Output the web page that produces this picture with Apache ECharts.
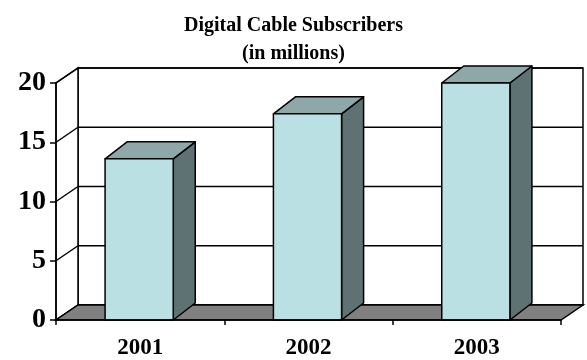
<!DOCTYPE html>
<html>
<head>
<meta charset="utf-8">
<script src="https://cdn.jsdelivr.net/npm/echarts@6/dist/echarts.min.js"></script>
<style>
  html, body { margin: 0; padding: 0; background: #fff; }
  #chart { width: 587px; height: 360px; }
</style>
</head>
<body>
<div id="chart"></div>
<script>
// Digital cable subscribers, millions
const years = ['2001', '2002', '2003'];
const subscribers = [13.6, 17.4, 20.0];
const yTicks = [0, 5, 10, 15, 20];

// Oblique depth of the walls / floor and of the columns
const WALL_DX = 22, WALL_DY = -15;
const BAR_DX = 22, BAR_DY = -17;
const SERIF = '"Liberation Serif", "Times New Roman", serif';
const INK = '#000';

const chart = echarts.init(document.getElementById('chart'), null, { renderer: 'canvas' });

function wallsRender(params, api) {
  const cs = params.coordSys;
  const x0 = cs.x, x1 = cs.x + cs.width;
  const yTop = api.coord([0, yTicks[yTicks.length - 1]])[1];
  const yBot = api.coord([0, yTicks[0]])[1];
  const children = [];
  // back wall
  children.push({
    type: 'polygon',
    shape: { points: [[x0 + WALL_DX, yTop + WALL_DY], [x1 + WALL_DX, yTop + WALL_DY],
                      [x1 + WALL_DX, yBot + WALL_DY], [x0 + WALL_DX, yBot + WALL_DY]] },
    style: { fill: '#fff', stroke: INK, lineWidth: 1.5 }
  });
  // side wall
  children.push({
    type: 'polygon',
    shape: { points: [[x0, yBot], [x0, yTop], [x0 + WALL_DX, yTop + WALL_DY], [x0 + WALL_DX, yBot + WALL_DY]] },
    style: { fill: '#fff', stroke: INK, lineWidth: 1.5 }
  });
  // gridlines on the back and side walls
  yTicks.forEach(function (v) {
    const y = api.coord([0, v])[1];
    children.push({
      type: 'line',
      shape: { x1: x0 + WALL_DX, y1: y + WALL_DY, x2: x1 + WALL_DX, y2: y + WALL_DY },
      style: { stroke: INK, lineWidth: 1.5 }
    });
    children.push({
      type: 'line',
      shape: { x1: x0, y1: y, x2: x0 + WALL_DX, y2: y + WALL_DY },
      style: { stroke: INK, lineWidth: 1.5 }
    });
  });
  // floor
  children.push({
    type: 'polygon',
    shape: { points: [[x0, yBot], [x1, yBot], [x1 + WALL_DX, yBot + WALL_DY], [x0 + WALL_DX, yBot + WALL_DY]] },
    style: { fill: '#808080', stroke: INK, lineWidth: 1.5 }
  });
  return { type: 'group', children: children };
}

function barRender(params, api) {
  const idx = api.value(0);
  const base = api.coord([idx, 0]);
  const top = api.coord([idx, api.value(1)]);
  const band = api.size([1, 0])[0];
  const w = band * 0.405;
  const xl = base[0] - 1 - w / 2, xr = xl + w;
  const yb = base[1], yt = top[1];
  const edge = { stroke: INK, lineWidth: 1.5, lineJoin: 'round' };
  return {
    type: 'group',
    children: [
      { type: 'polygon',
        shape: { points: [[xr, yb], [xr + BAR_DX, yb + BAR_DY], [xr + BAR_DX, yt + BAR_DY], [xr, yt]] },
        style: Object.assign({ fill: '#5E7273' }, edge) },
      { type: 'polygon',
        shape: { points: [[xl, yt], [xl + BAR_DX, yt + BAR_DY], [xr + BAR_DX, yt + BAR_DY], [xr, yt]] },
        style: Object.assign({ fill: '#8EA8AA' }, edge) },
      { type: 'rect',
        shape: { x: xl, y: yt, width: w, height: yb - yt },
        style: Object.assign({ fill: '#BBE0E3' }, edge) }
    ]
  };
}

chart.setOption({
  animation: false,
  backgroundColor: '#fff',
  title: {
    text: 'Digital Cable Subscribers\n(in millions)',
    left: 'center',
    top: 7,
    textStyle: { fontFamily: SERIF, fontWeight: 'bold', fontSize: 20, lineHeight: 28, color: INK }
  },
  grid: { left: 56, right: 26, top: 83, bottom: 37 },
  xAxis: {
    type: 'category',
    data: years,
    z: 5,
    axisLine: { show: true, lineStyle: { color: INK, width: 1.5 } },
    axisTick: { show: true, length: 5, lineStyle: { color: INK, width: 1.5 } },
    axisLabel: { margin: 17, fontFamily: SERIF, fontWeight: 'bold', fontSize: 23, color: INK }
  },
  yAxis: {
    type: 'value',
    min: 0, max: 20, interval: 5,
    z: 5,
    splitLine: { show: false },
    axisLine: { show: true, lineStyle: { color: INK, width: 1.5 } },
    axisTick: { show: true, length: 6, lineStyle: { color: INK, width: 1.5 } },
    axisLabel: { margin: 10, fontFamily: SERIF, fontWeight: 'bold', fontSize: 28, color: INK }
  },
  series: [
    {
      type: 'custom',
      z: 1,
      silent: true,
      renderItem: wallsRender,
      data: [[0, 0]]
    },
    {
      type: 'custom',
      z: 2,
      renderItem: barRender,
      data: subscribers.map(function (v, i) { return [i, v]; })
    }
  ]
});
</script>
</body>
</html>
